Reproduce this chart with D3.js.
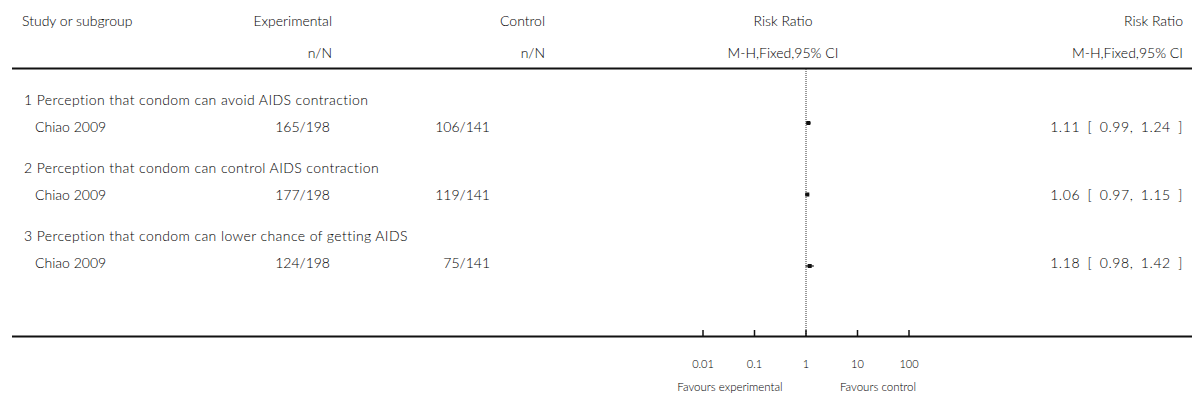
<!DOCTYPE html>
<html>
<head>
<meta charset="utf-8">
<script src="https://cdn.jsdelivr.net/npm/d3@7"></script>
<style>
  body { margin: 0; background: #fff; }
  svg text { font-family: "Lato", "Open Sans", sans-serif; font-size: 14px; font-weight: 300; fill: #000; }
</style>
</head>
<body>
<svg id="chart" width="1192" height="399"></svg>
<script>
// forest plot data
const subgroups = [
  "1 Perception that condom can avoid AIDS contraction",
  "2 Perception that condom can control AIDS contraction",
  "3 Perception that condom can lower chance of getting AIDS"
];
const studies = ["Chiao 2009", "Chiao 2009", "Chiao 2009"];
const expEvents = ["165/198", "177/198", "124/198"];
const ctrlEvents = ["106/141", "119/141", "75/141"];
const rr = [1.11, 1.06, 1.18];
const ciLow = [0.99, 0.97, 0.98];
const ciHigh = [1.24, 1.15, 1.42];
const tickValues = [0.01, 0.1, 1, 10, 100];
const tickLabels = ["0.01", "0.1", "1", "10", "100"];

const svg = d3.select("#chart");
const width = 1192;

const x = d3.scaleLog().domain([0.01, 100]).range([703, 909]);
const rowY = d3.scaleLinear().domain([0, 1]).range([99, 126]);
const blockStep = 68;
const markY = d3.scaleLinear().domain([0, 2]).range([123, 266]);

function label(g, tx, ty, str, anchor) {
  return g.append("text").attr("x", tx).attr("y", ty)
    .attr("text-anchor", anchor || "start").attr("dominant-baseline", "central").text(str);
}

// header
const head = svg.append("g");
label(head, 22, 20, "Study or subgroup");
label(head, 332, 20, "Experimental", "end");
label(head, 332, 52, "n/N", "end");
label(head, 545, 20, "Control", "end");
label(head, 545, 52, "n/N", "end");
label(head, 783, 20, "Risk Ratio", "middle");
label(head, 783, 52, "M-H,Fixed,95% CI", "middle");
label(head, 1183, 20, "Risk Ratio", "end");
label(head, 1183, 52, "M-H,Fixed,95% CI", "end");

svg.append("line").attr("x1", 12).attr("x2", width).attr("y1", 68.5).attr("y2", 68.5)
  .attr("stroke", "#111").attr("stroke-width", 2);

// reference line at RR = 1
svg.append("line").attr("x1", x(1)).attr("x2", x(1)).attr("y1", 69).attr("y2", 336)
  .attr("stroke", "#333").attr("stroke-width", 1).attr("stroke-dasharray", "1,1");

// rows
subgroups.forEach((s, i) => {
  const g = svg.append("g").attr("transform", `translate(0,${i * blockStep})`);
  label(g, 24, rowY(0), s).style("letter-spacing", "0.4px");
  label(g, 35, rowY(1), studies[i]);
  label(g, 330, rowY(1), expEvents[i], "end");
  label(g, 490, rowY(1), ctrlEvents[i], "end");
  label(g, 1183, rowY(1), `${rr[i].toFixed(2)} [ ${ciLow[i].toFixed(2)}, ${ciHigh[i].toFixed(2)} ]`, "end")
    .style("word-spacing", "3px").style("letter-spacing", "0.6px");
});

// CI lines and point markers
const marks = svg.append("g");
rr.forEach((v, i) => {
  const y = markY(i);
  marks.append("line").attr("x1", x(ciLow[i])).attr("x2", x(ciHigh[i])).attr("y1", y).attr("y2", y)
    .attr("stroke", "#111").attr("stroke-width", 1.2);
  marks.append("rect").attr("x", x(v) - 2).attr("y", y - 2).attr("width", 4).attr("height", 4).attr("fill", "#111");
});

// bottom axis
svg.append("line").attr("x1", 12).attr("x2", width).attr("y1", 336.5).attr("y2", 336.5)
  .attr("stroke", "#111").attr("stroke-width", 2);
const ax = svg.append("g");
ax.selectAll("line.tick").data(tickValues).enter().append("line")
  .attr("x1", d => x(d)).attr("x2", d => x(d)).attr("y1", 330).attr("y2", 336)
  .attr("stroke", "#111").attr("stroke-width", 1.5);
ax.selectAll("text").data(tickValues).enter().append("text")
  .attr("x", d => x(d)).attr("y", 363).attr("text-anchor", "middle").attr("dominant-baseline", "central")
  .style("font-size", "11px")
  .text((d, i) => tickLabels[i]);

label(svg, 730, 386, "Favours experimental", "middle").style("font-size", "11.5px");
label(svg, 878, 386, "Favours control", "middle").style("font-size", "11.5px");
</script>
</body>
</html>
